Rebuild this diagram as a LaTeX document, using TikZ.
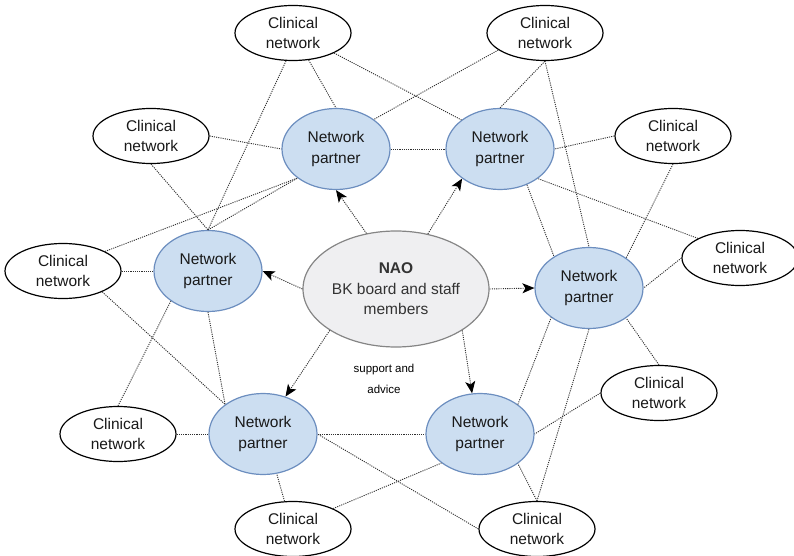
\documentclass[tikz,border=0pt]{standalone}
\usepackage{fontspec}
\setmainfont{Liberation Sans}
\usepackage{tikz}
\usetikzlibrary{calc,positioning,arrows.meta,shapes}
\usepackage{xcolor}
\definecolor{partnerfill}{HTML}{CCDEF1}
\definecolor{partnerline}{HTML}{6C8EBF}
\definecolor{naofill}{HTML}{EFEFF1}
\definecolor{naoline}{HTML}{858585}
\definecolor{linkgray}{HTML}{303030}

\begin{document}
\begin{tikzpicture}[
    x=1pt, y=-1pt,
    clinical/.style={ellipse, draw=black, line width=1.2pt, fill=white,
        minimum width=116pt, minimum height=55pt, inner sep=0pt, align=center,
        font=\fontsize{15.5}{20.5}\selectfont, text=black!90},
    partner/.style={ellipse, draw=partnerline, line width=1.2pt, fill=partnerfill,
        minimum width=108pt, minimum height=81pt, inner sep=0pt, align=center,
        font=\fontsize{15.5}{20.5}\selectfont, text=black!90},
    nao/.style={ellipse, draw=naoline, line width=1.2pt, fill=naofill,
        minimum width=186pt, minimum height=116pt, inner sep=0pt, align=center,
        font=\fontsize{15.5}{20.5}\selectfont, text=black!80},
    link/.style={linkgray, line width=0.9pt, dash pattern=on 1.1pt off 1.1pt},
    advice/.style={link, -{Stealth[length=12pt,width=10pt,inset=3pt,black]}},
]
    \useasboundingbox (0,0) rectangle (794,556);

    % clinical networks
    \node [clinical] (c1)  at (293,33)  {Clinical\\network};
    \node [clinical] (c2)  at (545,33)  {Clinical\\network};
    \node [clinical] (c3)  at (151,136) {Clinical\\network};
    \node [clinical] (c4)  at (673,136) {Clinical\\network};
    \node [clinical] (c5)  at (63,271)  {Clinical\\network};
    \node [clinical] (c6)  at (740,258) {Clinical\\network};
    \node [clinical] (c7)  at (659,393) {Clinical\\network};
    \node [clinical] (c8)  at (118,434) {Clinical\\network};
    \node [clinical] (c9)  at (293,529) {Clinical\\network};
    \node [clinical] (c10) at (537,529) {Clinical\\network};

    % network partners
    \node [partner] (p1) at (336,149) {Network\\partner};
    \node [partner] (p2) at (500,149) {Network\\partner};
    \node [partner] (p3) at (208,271) {Network\\partner};
    \node [partner] (p4) at (589,288) {Network\\partner};
    \node [partner] (p5) at (263,434) {Network\\partner};
    \node [partner] (p6) at (480,434) {Network\\partner};

    \node [nao] (nao) at (396,289) {\textbf{NAO}\\BK board and staff\\members};
    \node [font=\fontsize{11.5}{20.5}\selectfont, align=center] (support) at (384,379) {support and\\advice};

    % links
    \draw [link] (c1.256) -- (p3.north);
    \draw [link] (c1.300) -- (p1.north);
    \draw [link] (c1.334) -- (p2.143);
    \draw [link] (c2.200) -- (p1.38);
    \draw [link] (c2.south) -- (p2.north);
    \draw [link] (c2.south) -- (p4.north);
    \draw [link] (c3.east) -- (p1.west);
    \draw [link] (c3.south) -- (p3.north);
    \draw [link] (c4.west) -- (p2.east);
    \draw [link] (c4.south) -- (p4.39);
    \draw [link] (c5.east) -- (p3.west);
    \draw [link] (c5.25) -- (p1.217);
    \draw [link] (c5.332) -- (p5.142);
    \draw [link] (c6.155) -- (p2.322);
    \draw [link] (c6.west) -- (p4.east);
    \draw [link] (c7.north) -- (p4.321);
    \draw [link] (c7.west) -- (p6.east);
    \draw [link] (c8.north) -- (p3.219);
    \draw [link] (c8.east) -- (p5.west);
    \draw [link] (c9.107) -- (p5.289);
    \draw [link] (c9.27) -- (p6.217);
    \draw [link] (c10.west) -- (p5.east);
    \draw [link] (c10.north) -- (p6.322);
    \draw [link] (c10.north) -- (p4.south);
    \draw [link] (p1.east) -- (p2.west);
    \draw [link] (p3.north) -- (p1.217);
    \draw [link] (p3.south) -- (p5.142);
    \draw [link] (p5.east) -- (p6.west);
    \draw [link] (p2.307) -- (p4.138);
    \draw [link] (p6.38) -- (p4.218);

    % support and advice
    \draw [advice] (nao.118) -- (p1.south);
    \draw [advice] (nao.60) -- (p2.218);
    \draw [advice] (nao.west) -- (p3.east);
    \draw [advice] (nao.east) -- (p4.west);
    \draw [advice] (nao.212) -- (p5.59);
    \draw [advice] (nao.328) -- (p6.101);
\end{tikzpicture}
\end{document}
